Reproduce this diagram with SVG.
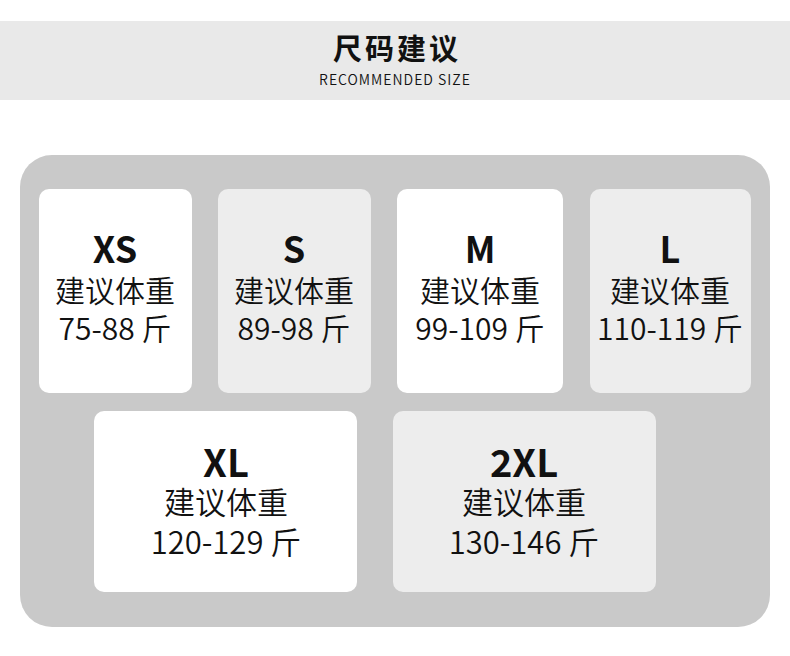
<svg xmlns="http://www.w3.org/2000/svg" width="790" height="656" viewBox="0 0 790 656">
<style>
.t{font-family:"Noto Sans CJK SC","Noto Sans",sans-serif;fill:#111;text-anchor:middle;font-weight:350}
.t.sz{font-weight:700}
.w{fill:#ffffff}
.g{fill:#ededed}
</style>
<rect width="790" height="656" fill="#ffffff"/>
<g id="header">
<rect x="0" y="21" width="790" height="79" fill="#e9e9e9"/>
<text class="t" x="397" y="60" font-size="29" style="font-weight:700" letter-spacing="3">尺码建议</text>
<text class="t" x="395" y="85" font-size="14" letter-spacing="1">RECOMMENDED SIZE</text>
</g>
<g id="panel">
<rect x="20" y="155" width="750" height="472" rx="32" fill="#c9c9c9"/>
</g>
<g id="xs">
<rect class="w" x="39" y="189" width="153" height="204" rx="10"/>
<text class="t sz" x="115" y="263" font-size="36">XS</text>
<text class="t" x="115" y="302" font-size="30">建议体重</text>
<text class="t" x="115" y="340" font-size="30">75-88 斤</text>
</g>
<g id="s">
<rect class="g" x="218" y="189" width="153" height="204" rx="10"/>
<text class="t sz" x="294" y="263" font-size="36">S</text>
<text class="t" x="294" y="302" font-size="30">建议体重</text>
<text class="t" x="294" y="340" font-size="30">89-98 斤</text>
</g>
<g id="m">
<rect class="w" x="397" y="189" width="166" height="204" rx="10"/>
<text class="t sz" x="480" y="263" font-size="36">M</text>
<text class="t" x="480" y="302" font-size="30">建议体重</text>
<text class="t" x="480" y="340" font-size="30">99-109 斤</text>
</g>
<g id="l">
<rect class="g" x="590" y="189" width="161" height="204" rx="10"/>
<text class="t sz" x="670" y="263" font-size="36">L</text>
<text class="t" x="670" y="302" font-size="30">建议体重</text>
<text class="t" x="670" y="340" font-size="30">110-119 斤</text>
</g>
<g id="xl">
<rect class="w" x="94" y="411" width="263" height="181" rx="10"/>
<text class="t sz" x="226" y="477" font-size="38">XL</text>
<text class="t" x="226" y="514" font-size="31">建议体重</text>
<text class="t" x="226" y="554" font-size="31">120-129 斤</text>
</g>
<g id="xxl">
<rect class="g" x="393" y="411" width="263" height="181" rx="10"/>
<text class="t sz" x="524" y="477" font-size="38">2XL</text>
<text class="t" x="524" y="514" font-size="31">建议体重</text>
<text class="t" x="524" y="554" font-size="31">130-146 斤</text>
</g>
<g id="connectors"></g>
</svg>
